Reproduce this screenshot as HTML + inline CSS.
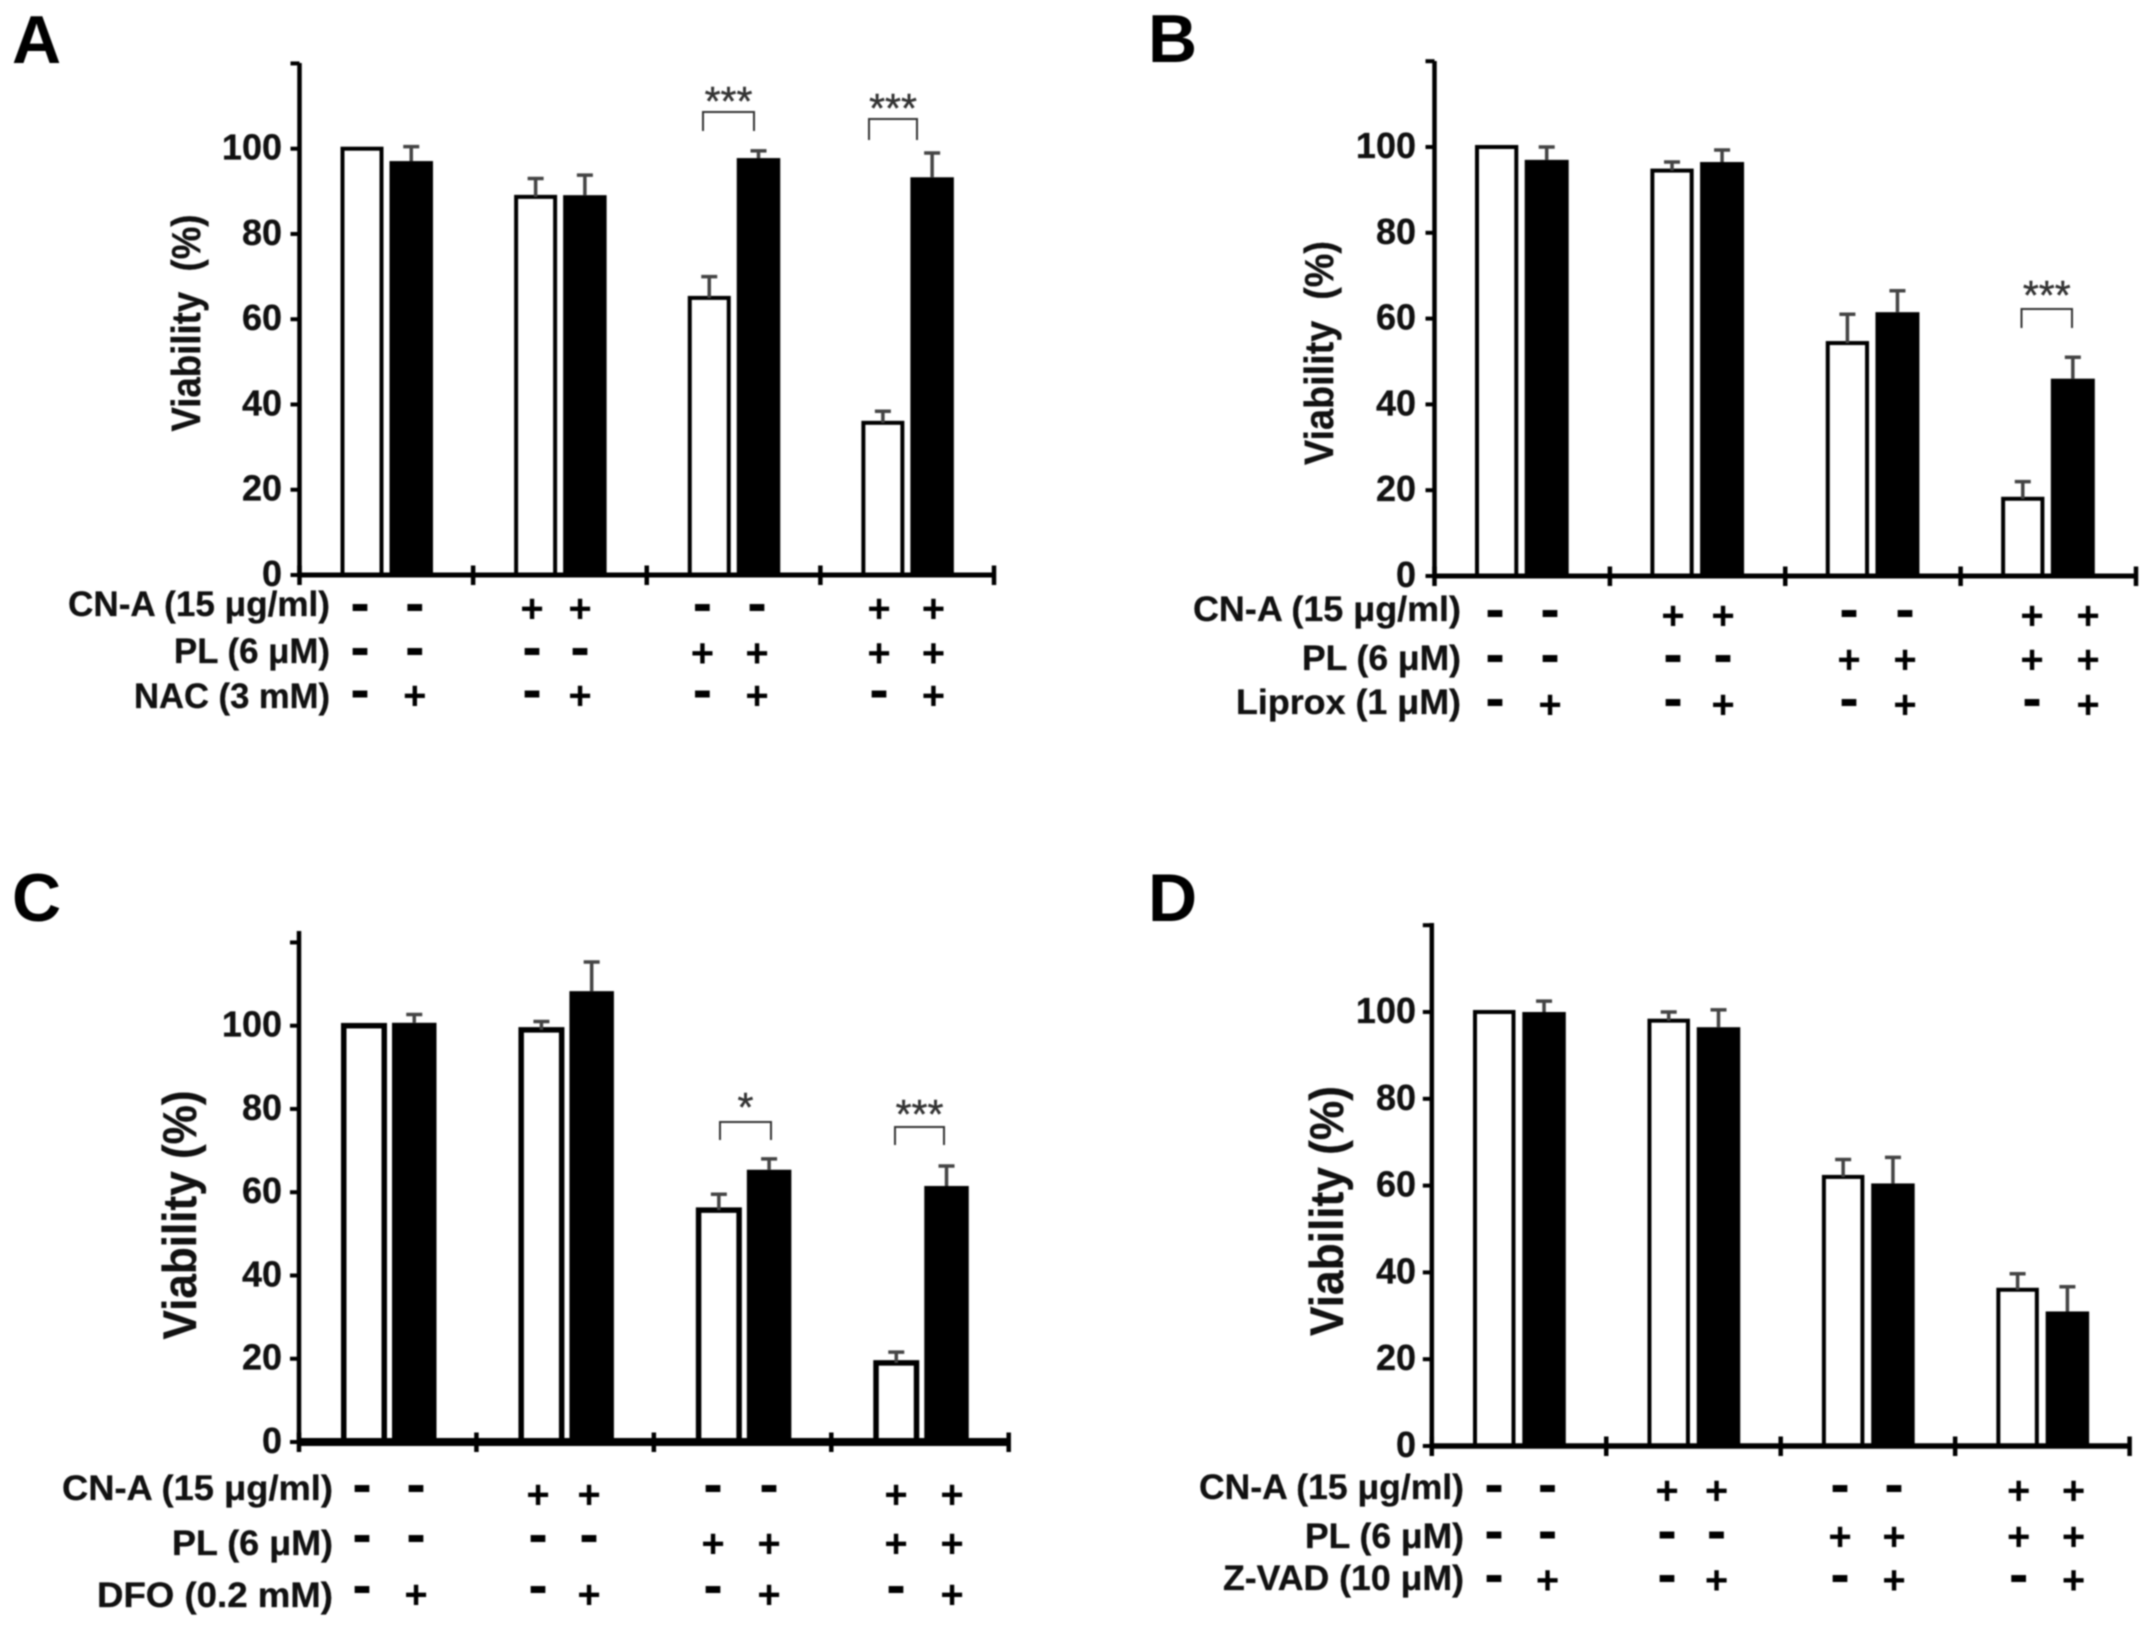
<!DOCTYPE html>
<html lang="en">
<head>
<meta charset="utf-8">
<title>Viability bar charts, panels A to D</title>
<style>
html,body{margin:0;padding:0;background:#fff;width:2150px;height:1628px;overflow:hidden}
svg{display:block;filter:blur(0.8px)}
text{font-family:"Liberation Sans",sans-serif}
</style>
</head>
<body>
<svg id="figure" xmlns="http://www.w3.org/2000/svg" width="2150" height="1628" viewBox="0 0 2150 1628"></svg>
<script>
// ---- chart data ----
const yTickLabels = [0, 20, 40, 60, 80, 100];

const cnaSigns = ['-', '-', '+', '+', '-', '-', '+', '+'];
const plSigns = ['-', '-', '-', '-', '+', '+', '+', '+'];
const inhibitorSigns = ['-', '+', '-', '+', '-', '+', '-', '+'];

const panelAControl = [100, 88.7, 65, 35.7];
const panelAControlErr = [0, 4.3, 5, 2.7];
const panelATreated = [97.1, 89.1, 97.8, 93.3];
const panelATreatedErr = [3.4, 4.7, 1.7, 5.7];

const panelBControl = [100, 94.5, 54.3, 18];
const panelBControlErr = [0, 2, 6.7, 4];
const panelBTreated = [97, 96.5, 61.5, 46];
const panelBTreatedErr = [3, 2.8, 5, 5];

const panelCControl = [100, 99, 55.7, 19];
const panelCControlErr = [0, 2, 3.8, 2.6];
const panelCTreated = [100.7, 108.3, 65.4, 61.5];
const panelCTreatedErr = [2, 7, 2.6, 4.8];

const panelDControl = [100, 98, 62, 36];
const panelDControlErr = [0, 2, 4, 3.7];
const panelDTreated = [100, 96.5, 60.5, 31];
const panelDTreatedErr = [2.5, 4, 6, 5.7];

const panels = [
  {
    id: 'a', letter: 'A', letterX: 12, letterY: 63,
    control: panelAControl, controlErr: panelAControlErr, treated: panelATreated, treatedErr: panelATreatedErr,
    axis: { x0: 299.5, xEnd: 994, yTop: 63, y0: 575, y100: 148.7, weight: 5 },
    bar: { whiteOff: 41, whiteW: 43, blackOff: 90, blackW: 43.5, line: 4 },
    tickLabelX: 282,
    title: { text: 'Viability\u00a0 (%)', x: 200, mid: 323, len: 217, size: 41 },
    rows: [
      { text: 'CN-A (15 \u03bcg/ml)', w: 262, base: 616, minus: 606.7, plus: 609, signs: cnaSigns },
      { text: 'PL (6 \u03bcM)', w: 156, base: 663, minus: 651, plus: 653.3, signs: plSigns },
      { text: 'NAC (3 mM)', w: 196, base: 708, minus: 693.5, plus: 696, signs: inhibitorSigns }
    ],
    rowLabelX: 330,
    signX: [360, 414.8, 532, 580, 702.4, 757, 879, 933.4],
    notes: [
      { mark: '***', x1: 703, x2: 754, top: 112, bottom: 131, textY: 99 },
      { mark: '***', x1: 869, x2: 917, top: 119, bottom: 140, textY: 106 }
    ]
  },
  {
    id: 'b', letter: 'B', letterX: 1148, letterY: 62,
    control: panelBControl, controlErr: panelBControlErr, treated: panelBTreated, treatedErr: panelBTreatedErr,
    axis: { x0: 1434.5, xEnd: 2136, yTop: 61, y0: 576, y100: 147, weight: 5 },
    bar: { whiteOff: 40.5, whiteW: 43.3, blackOff: 90.2, blackW: 44, line: 4 },
    tickLabelX: 1416,
    title: { text: 'Viability\u00a0 (%)', x: 1333, mid: 353, len: 224, size: 41 },
    rows: [
      { text: 'CN-A (15 \u03bcg/ml)', w: 268, base: 621, minus: 613, plus: 616, signs: cnaSigns },
      { text: 'PL (6 \u03bcM)', w: 159, base: 670, minus: 658, plus: 660, signs: plSigns },
      { text: 'Liprox (1 \u03bcM)', w: 225, base: 714, minus: 702, plus: 705, signs: inhibitorSigns }
    ],
    rowLabelX: 1461,
    signX: [1495, 1550, 1673, 1723, 1849, 1905, 2032, 2088],
    notes: [
      { mark: '***', x1: 2021.5, x2: 2072, top: 309, bottom: 328, textY: 293 }
    ]
  },
  {
    id: 'c', letter: 'C', letterX: 12, letterY: 921,
    control: panelCControl, controlErr: panelCControlErr, treated: panelCTreated, treatedErr: panelCTreatedErr,
    axis: { x0: 299, xEnd: 1008.7, yTop: 931, y0: 1442, y100: 1025.7, weight: 8 },
    bar: { whiteOff: 42, whiteW: 46, blackOff: 93, blackW: 44.5, line: 5.5 },
    tickLabelX: 282,
    title: { text: 'Viability (%)', x: 196, mid: 1215, len: 249, size: 47 },
    rows: [
      { text: 'CN-A (15 \u03bcg/ml)', w: 271, base: 1500, minus: 1488, plus: 1495, signs: cnaSigns },
      { text: 'PL (6 \u03bcM)', w: 161, base: 1555, minus: 1538, plus: 1544, signs: plSigns },
      { text: 'DFO (0.2 mM)', w: 236, base: 1607, minus: 1589, plus: 1595, signs: inhibitorSigns }
    ],
    rowLabelX: 333,
    signX: [362, 416, 538, 589, 713, 769, 896, 952],
    notes: [
      { mark: '*', x1: 720, x2: 771, top: 1122, bottom: 1140, textY: 1105 },
      { mark: '***', x1: 895, x2: 944, top: 1127, bottom: 1145, textY: 1112 }
    ]
  },
  {
    id: 'd', letter: 'D', letterX: 1148, letterY: 921,
    control: panelDControl, controlErr: panelDControlErr, treated: panelDTreated, treatedErr: panelDTreatedErr,
    axis: { x0: 1431.8, xEnd: 2129.6, yTop: 923, y0: 1446, y100: 1012, weight: 5.5 },
    bar: { whiteOff: 41.2, whiteW: 42.5, blackOff: 90.5, blackW: 43.5, line: 4 },
    tickLabelX: 1416,
    title: { text: 'Viability (%)', x: 1343, mid: 1211, len: 250, size: 47 },
    rows: [
      { text: 'CN-A (15 \u03bcg/ml)', w: 265, base: 1499, minus: 1488, plus: 1491, signs: cnaSigns },
      { text: 'PL (6 \u03bcM)', w: 159, base: 1548, minus: 1534.5, plus: 1537, signs: plSigns },
      { text: 'Z-VAD (10 \u03bcM)', w: 241, base: 1590, minus: 1578, plus: 1580.5, signs: inhibitorSigns }
    ],
    rowLabelX: 1464,
    signX: [1494, 1547.5, 1667, 1716.5, 1840, 1894, 2018.7, 2073.6],
    notes: []
  }
];

// ---- drawing ----
const SVG_NS = 'http://www.w3.org/2000/svg';
const figure = document.getElementById('figure');

function make(tag, parent, attrs, content) {
  const el = document.createElementNS(SVG_NS, tag);
  for (const key in attrs) el.setAttribute(key, attrs[key]);
  if (content !== undefined) el.textContent = content;
  parent.appendChild(el);
  return el;
}

function drawPanel(p) {
  const g = make('g', figure, {});
  
  

  const ax = p.axis;
  const yScale = v => ax.y0 - v * (ax.y0 - ax.y100) / 100;
  const groupWidth = (ax.xEnd - ax.x0) / p.control.length;
  const line = p.bar.line;

  const letter = make('text', g, { x: p.letterX, y: p.letterY, 'font-size': 68, 'font-weight': 700, fill: '#000' }, p.letter);
  
  

  // bars and error bars
  p.control.forEach((value, i) => {
    const left = ax.x0 + i * groupWidth;
    const top = yScale(value);
    const white = make('rect', g, {
      x: left + p.bar.whiteOff + line / 2, y: top,
      width: p.bar.whiteW - line, height: ax.y0 - top,
      fill: '#fff', stroke: '#000', 'stroke-width': line
    });
    
    
    drawError(g, left + p.bar.whiteOff + p.bar.whiteW / 2, value, p.controlErr[i], yScale, 'error-control-' + p.id + '-' + (i + 1));

    const tv = p.treated[i];
    const ttop = yScale(tv);
    const black = make('rect', g, {
      x: left + p.bar.blackOff, y: ttop,
      width: p.bar.blackW, height: ax.y0 - ttop,
      fill: '#000'
    });
    
    
    drawError(g, left + p.bar.blackOff + p.bar.blackW / 2, tv, p.treatedErr[i], yScale, 'error-treated-' + p.id + '-' + (i + 1));
  });

  // y axis
  const yAxis = make('line', g, { x1: ax.x0, x2: ax.x0, y1: ax.yTop, y2: ax.y0 + 2, stroke: '#000', 'stroke-width': 4.5 });
  
  

  yTickLabels.forEach(v => {
    const y = yScale(v);
    const tick = make('line', g, { x1: ax.x0 - 9, x2: ax.x0, y1: y, y2: y, stroke: '#000', 'stroke-width': 4 });
    
    
    const label = make('text', g, { x: p.tickLabelX, y: y + 11, 'font-size': 36, 'font-weight': 700, 'text-anchor': 'end', fill: '#111', stroke: '#111', 'stroke-width': 0.3 }, String(v));
    
    
  });
  const topTick = make('line', g, { x1: ax.x0 - 9, x2: ax.x0, y1: yScale(120), y2: yScale(120), stroke: '#000', 'stroke-width': 4 });
  
  

  // x axis
  const xAxis = make('line', g, { x1: ax.x0 - 2, x2: ax.xEnd, y1: ax.y0, y2: ax.y0, stroke: '#000', 'stroke-width': ax.weight });
  
  
  for (let i = 0; i <= p.control.length; i++) {
    const x = ax.x0 + i * groupWidth;
    const tick = make('line', g, { x1: x, x2: x, y1: ax.y0 - 9.5, y2: ax.y0 + 10, stroke: '#000', 'stroke-width': 4.5 });
    
    
  }

  // y axis title
  const title = make('text', g, {
    x: 0, y: 0, 'font-size': p.title.size, 'font-weight': 700, 'text-anchor': 'middle', fill: '#111', stroke: '#111', 'stroke-width': 0.3,
    textLength: p.title.len, lengthAdjust: 'spacingAndGlyphs',
    transform: 'translate(' + p.title.x + ' ' + p.title.mid + ') rotate(-90)'
  }, p.title.text);
  
  

  // treatment rows
  p.rows.forEach((row, r) => {
    const label = make('text', g, {
      x: p.rowLabelX, y: row.base, 'font-size': 35, 'font-weight': 700, 'text-anchor': 'end', fill: '#111', stroke: '#111', 'stroke-width': 0.3,
      textLength: row.w, lengthAdjust: 'spacingAndGlyphs'
    }, row.text);
    
    
    row.signs.forEach((sign, c) => {
      const isPlus = sign === '+';
      const size = isPlus ? 40 : 58;
      const base = isPlus ? row.plus + 0.33 * size : row.minus + 0.27 * size;
      const mark = make('text', g, {
        x: p.signX[c], y: base, 'font-size': size, 'font-weight': 700, 'text-anchor': 'middle', fill: '#000'
      }, sign);
      
      
    });
  });

  // significance brackets
  p.notes.forEach(n => {
    const bracket = make('polyline', g, {
      points: n.x1 + ',' + n.bottom + ' ' + n.x1 + ',' + n.top + ' ' + n.x2 + ',' + n.top + ' ' + n.x2 + ',' + n.bottom,
      fill: 'none', stroke: '#333', 'stroke-width': 2
    });
    
    
    const stars = make('text', g, {
      x: (n.x1 + n.x2) / 2, y: n.textY + 16, 'font-size': 41, 'text-anchor': 'middle', fill: '#333', stroke: '#333', 'stroke-width': 0.4
    }, n.mark);
    
    
  });
}

function drawError(parent, x, value, err, yScale, name) {
  if (!err) return;
  const top = yScale(value + err);
  const bottom = yScale(value);
  const group = make('g', parent, { stroke: '#444', 'stroke-width': 3.5, fill: 'none' });
  
  
  make('line', group, { x1: x, x2: x, y1: top, y2: bottom });
  make('line', group, { x1: x - 8, x2: x + 8, y1: top, y2: top });
}

panels.forEach(drawPanel);
</script>
</body>
</html>
